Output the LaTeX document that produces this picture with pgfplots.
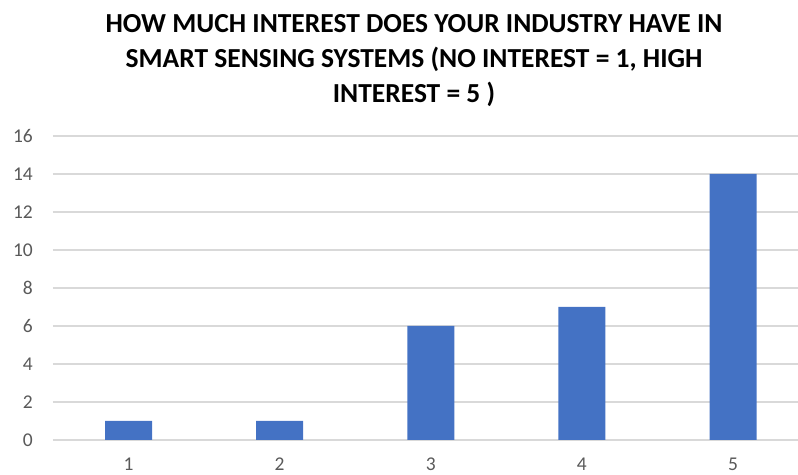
\documentclass[border=0pt]{standalone}
\usepackage{fontspec}
\setmainfont{Carlito}
\usepackage{pgfplots}
\pgfplotsset{compat=1.18}
\definecolor{barblue}{HTML}{4472C4}
\definecolor{gridgray}{HTML}{D9D9D9}
\definecolor{ticktext}{HTML}{595959}
\begin{document}
\begin{tikzpicture}
\begin{axis}[
  at={(53bp,35bp)}, anchor=south west,
  scale only axis, width=745bp, height=304bp,
  xmin=0.5, xmax=5.43, ymin=0, ymax=16,
  ytick={0,2,...,16}, xtick={1,2,3,4,5},
  ymajorgrids, grid style={gridgray, line width=1.3bp},
  axis line style={draw=none},
  major tick length=0pt,
  /pgf/number format/assume math mode=true,
  ticklabel style={font=\fontsize{19.5bp}{20bp}\selectfont, text=ticktext},
  yticklabel style={anchor=east, inner sep=0pt, xshift=-20bp},
  xticklabel style={anchor=base, inner sep=0pt, yshift=-30bp},
  ybar, bar width=47bp,
]
\addplot[fill=barblue, draw=none] coordinates {(1,1) (2,1) (3,6) (4,7) (5,14)};
\end{axis}
\node[anchor=base, inner sep=0pt, font=\fontsize{27.5bp}{30bp}\selectfont\bfseries] at (414bp,442bp) {HOW MUCH INTEREST DOES YOUR INDUSTRY HAVE IN};
\node[anchor=base, inner sep=0pt, font=\fontsize{27.5bp}{30bp}\selectfont\bfseries] at (414bp,407bp) {SMART SENSING SYSTEMS (NO INTEREST = 1, HIGH};
\node[anchor=base, inner sep=0pt, font=\fontsize{27.5bp}{30bp}\selectfont\bfseries] at (414bp,372bp) {INTEREST = 5 )};
\pgfresetboundingbox
\useasboundingbox (0,0) rectangle (798bp,475bp);
\end{tikzpicture}
\end{document}
